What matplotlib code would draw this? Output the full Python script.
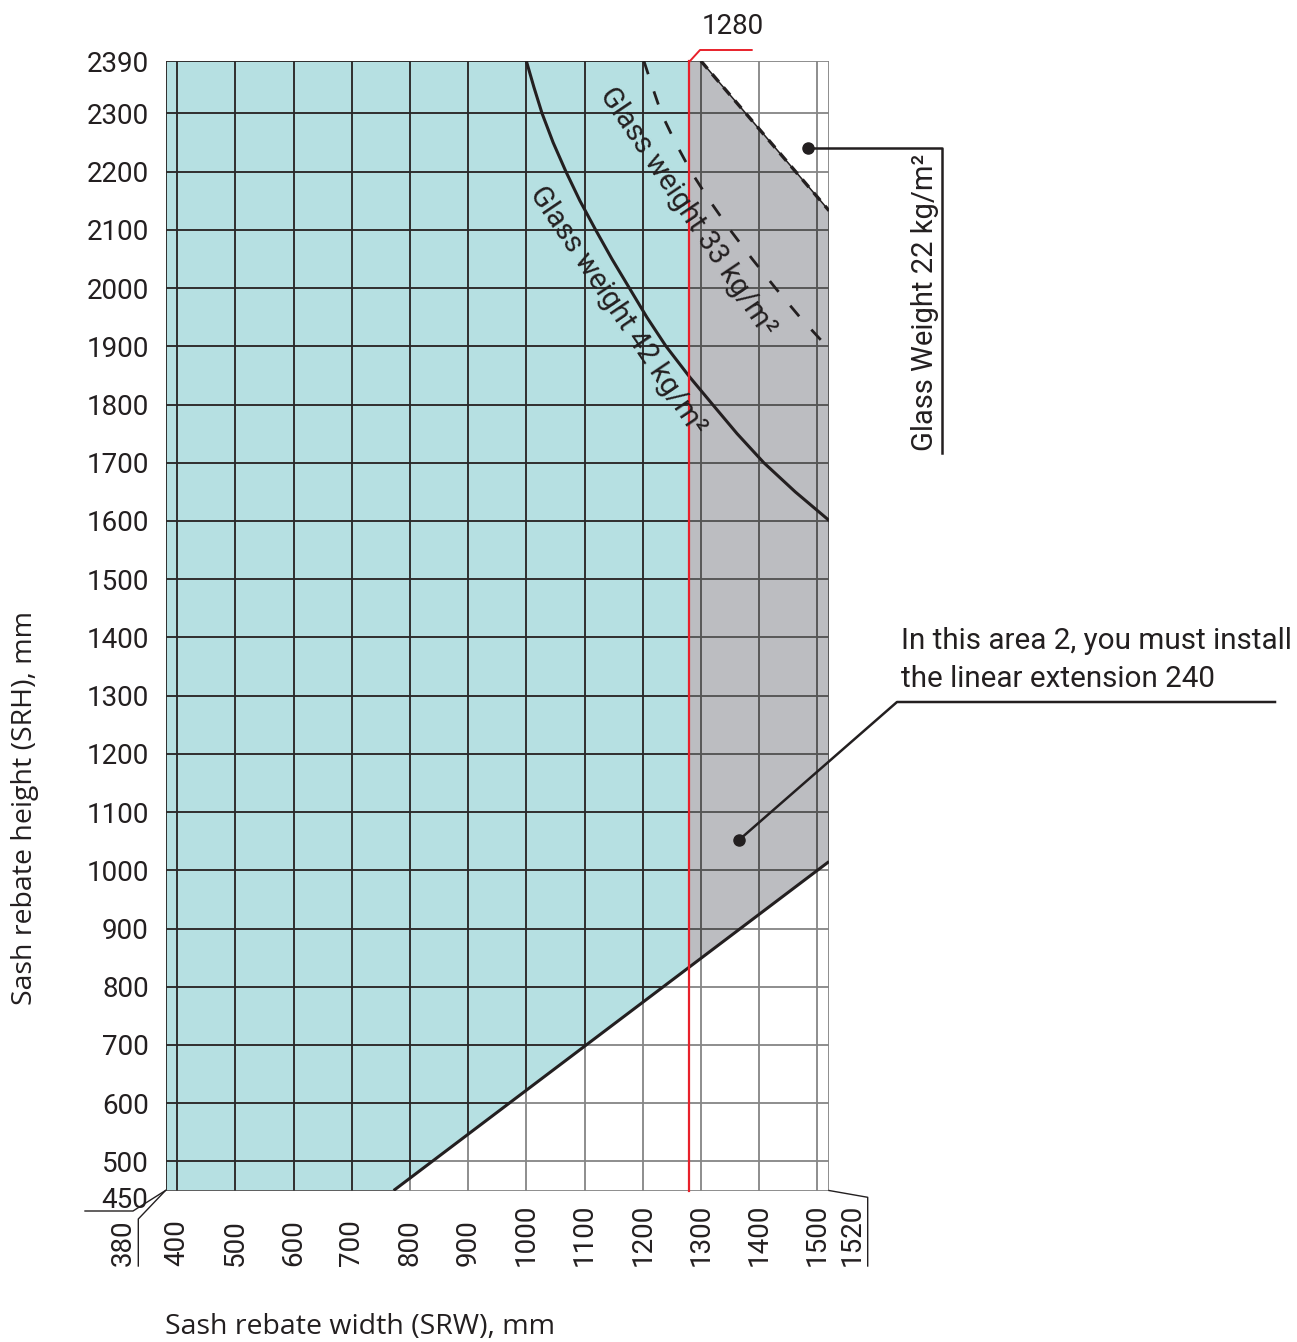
import numpy as np
import matplotlib
matplotlib.use("Agg")
import matplotlib.pyplot as plt
from matplotlib.lines import Line2D
from matplotlib.collections import LineCollection

# chart limits (mm)
X_MIN, X_MAX = 380, 1520
Y_MIN, Y_MAX = 450, 2390

x_grid = [400, 500, 600, 700, 800, 900, 1000, 1100, 1200, 1300, 1400, 1500]
y_grid = [500, 600, 700, 800, 900, 1000, 1100, 1200, 1300, 1400, 1500, 1600,
          1700, 1800, 1900, 2000, 2100, 2200, 2300]

# limit of area 1 / area 2
limit_x = 1280

# lower boundary (minimum sash height)
lower_x = [772, 1520]
lower_y = [450, 1015]

# glass weight limit curves
w42_x = [1000, 1013, 1027, 1046, 1068, 1092, 1119, 1147, 1177, 1207, 1240,
         1280, 1320, 1362, 1408, 1462, 1520]
w42_y = [2390, 2345, 2300, 2250, 2200, 2150, 2100, 2050, 2000, 1950, 1900,
         1848, 1800, 1750, 1700, 1650, 1601]

w33_x = [1202, 1215, 1232, 1256, 1283, 1315, 1350, 1388, 1428, 1470, 1516, 1520]
w33_y = [2390, 2350, 2300, 2250, 2200, 2150, 2100, 2050, 2000, 1950, 1900, 1896]

w22_x = [1300, 1520]
w22_y = [2390, 2133]

W, H = 1297, 1342
TEAL = "#b6e0e2"
GREY = "#bcbdc1"
RED = "#e8202a"
INK = "#231f20"

plt.rcParams['font.family'] = ['Roboto', 'DejaVu Sans']

fig = plt.figure(figsize=(W / 100, H / 100), dpi=100)


def fx(p):
    return p / W


def fy(p):
    return 1 - p / H


ax = fig.add_axes([fx(165.5), fy(1190.5), (829 - 165.5) / W, (1190.5 - 61) / H])
ax.set_xlim(X_MIN, X_MAX)
ax.set_ylim(Y_MIN, Y_MAX)
for s in ax.spines.values():
    s.set_visible(False)

# areas
y_at_limit = np.interp(limit_x, lower_x, lower_y)
teal = ax.fill([X_MIN, lower_x[0], limit_x, limit_x, X_MIN],
               [Y_MIN, lower_y[0], y_at_limit, Y_MAX, Y_MAX],
               color=TEAL, lw=0, zorder=1)[0]
grey = ax.fill([limit_x, limit_x, w22_x[0], w22_x[1], lower_x[1]],
               [y_at_limit, Y_MAX, w22_y[0], w22_y[1], lower_y[1]],
               color=GREY, lw=0, zorder=1)[0]

# grid, darker where it sits on the coloured areas
segs = [[(x, Y_MIN), (x, Y_MAX)] for x in [X_MIN] + x_grid + [X_MAX]]
segs += [[(X_MIN, y), (X_MAX, y)] for y in [Y_MIN] + y_grid + [Y_MAX]]
ax.add_collection(LineCollection(segs, colors="#858585", lw=1.3, zorder=2))
lc_t = LineCollection(segs, colors="#2a2a2a", lw=1.3, zorder=2.1)
ax.add_collection(lc_t)
lc_t.set_clip_path(teal)
lc_g = LineCollection(segs, colors="#555555", lw=1.3, zorder=2.1)
ax.add_collection(lc_g)
lc_g.set_clip_path(grey)

# curves
ax.plot(lower_x, lower_y, color=INK, lw=2.2, zorder=4, solid_capstyle='butt')
ax.plot(w42_x, w42_y, color=INK, lw=2.2, zorder=4)
ax.plot(w33_x, w33_y, color=INK, lw=2, dashes=(5, 6.5), zorder=4)
ax.plot(w22_x, w22_y, color=INK, lw=1.1, zorder=4)
ax.plot(w22_x, w22_y, color=INK, lw=2.4, dashes=(3, 2.2), zorder=4)
ax.plot([limit_x, limit_x], [Y_MIN, Y_MAX], color=RED, lw=1.6, zorder=5, clip_on=False)

# ticks
ax.set_xticks([])
ax.set_yticks(y_grid + [Y_MAX])
ax.set_yticklabels([str(v) for v in y_grid + [Y_MAX]], fontsize=20, color=INK)
ax.tick_params(axis='y', length=0, pad=12)

for v in x_grid:
    fig.text(fx(165.5 + (v - X_MIN) * (829 - 165.5) / (X_MAX - X_MIN)), fy(1266), str(v),
             rotation=90, ha='center', va='bottom', fontsize=20, color=INK)

# end labels with leaders
fig.text(fx(148), fy(1200), "450", ha='right', va='center', fontsize=20, color=INK)
fig.add_artist(Line2D([fx(85), fx(133), fx(165.5)], [fy(1211), fy(1211), fy(1190.5)],
                      color=INK, lw=1))
fig.text(fx(123), fy(1266), "380", rotation=90, ha='center', va='bottom', fontsize=20, color=INK)
fig.add_artist(Line2D([fx(165.5), fx(138.3), fx(138.3)], [fy(1190.5), fy(1219), fy(1266)],
                      color=INK, lw=1))
fig.text(fx(852), fy(1266), "1520", rotation=90, ha='center', va='bottom', fontsize=20, color=INK)
fig.add_artist(Line2D([fx(829), fx(867.7), fx(867.7)], [fy(1190.5), fy(1197.3), fy(1266)],
                      color=INK, lw=1))

# 1280 marker
fig.add_artist(Line2D([fx(690), fx(700), fx(751.7)], [fy(61), fy(50), fy(50)],
                      color=RED, lw=1.4))
fig.text(fx(733), fy(27), str(limit_x), ha='center', va='center', fontsize=20, color=INK)

# curve labels
fig.text(fx(688), fy(212), "Glass weight 33 kg/m²", rotation=-56, rotation_mode='anchor',
         ha='center', va='center', fontsize=21, color=INK)
fig.text(fx(618), fy(311), "Glass weight 42 kg/m²", rotation=-56, rotation_mode='anchor',
         ha='center', va='center', fontsize=21, color=INK)

# 22 kg/m2 callout
fig.add_artist(Line2D([fx(808), fx(942), fx(942)], [fy(148), fy(148), fy(453)],
                      color=INK, lw=1.8))
fig.add_artist(Line2D([fx(808)], [fy(148)], marker='o', ms=8, color=INK))
fig.text(fx(925), fy(302), "Glass Weight 22 kg/m²", rotation=90, ha='center', va='center',
         fontsize=21, color=INK)

# area 2 callout
fig.add_artist(Line2D([fx(739), fx(897), fx(1275)], [fy(840), fy(702), fy(702)],
                      color=INK, lw=1.8))
fig.add_artist(Line2D([fx(739)], [fy(840)], marker='o', ms=8, color=INK))
fig.text(fx(901), fy(641), "In this area 2, you must install", ha='left', va='center',
         fontsize=21.3, color=INK)
fig.text(fx(901), fy(679), "the linear extension 240", ha='left', va='center',
         fontsize=21.3, color=INK)

# axis titles
fig.text(fx(25), fy(808), "Sash rebate height (SRH), mm", rotation=90, ha='center',
         va='center', fontsize=20.5, color=INK, family='Open Sans')
fig.text(fx(165), fy(1327), "Sash rebate width (SRW), mm", ha='left', va='center',
         fontsize=20.5, color=INK, family='Open Sans')

fig.savefig("out.png", dpi=100)
